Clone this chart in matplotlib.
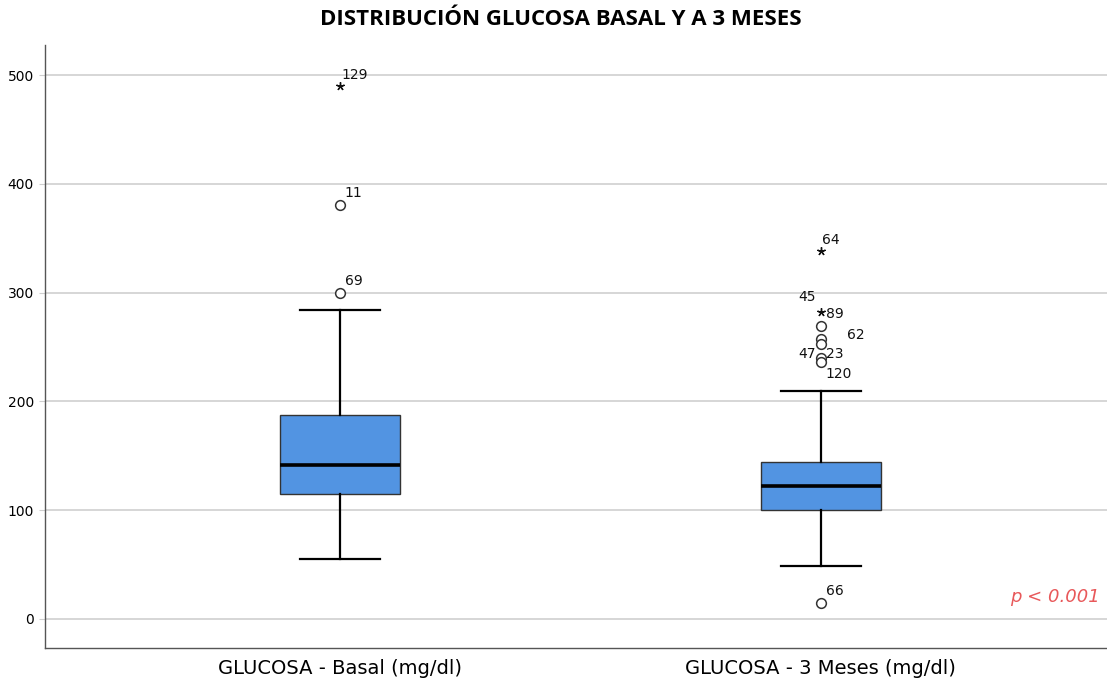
import numpy as np
import matplotlib.pyplot as plt

# -------------------- Data --------------------
groups = ["GLUCOSA - Basal (mg/dl)", "GLUCOSA - 3 Meses (mg/dl)"]
q1      = [115, 100]
median  = [142, 122]
q3      = [188, 144]
wlo     = [55, 49]
whi     = [284, 210]

# outliers (circles) and extremes (stars), with case labels
out_vals   = [[300, 381], [269, 257, 253, 240, 236, 15]]
out_labels = [["69", "11"], ["", "62", "", "47 23", "120", "66"]]
ext_vals   = [[490], [338, 282]]
ext_labels = [["129"], ["64", "45 89"]]

P_TEXT = "p < 0.001"

BOX_COL = "#5294E2"
EDGE    = "#333333"
GRID    = "#CFCFCF"

fig = plt.figure(figsize=(11.07, 6.85), dpi=100)
ax = fig.add_axes([0.0407, 0.054, 0.9593, 0.880])

stats = []
for i, g in enumerate(groups):
    stats.append(dict(label=g, q1=q1[i], med=median[i], q3=q3[i],
                      whislo=wlo[i], whishi=whi[i], fliers=[]))

pos = [1, 2]
ax.bxp(stats, positions=pos, widths=0.25, patch_artist=True, showfliers=False,
       boxprops=dict(facecolor=BOX_COL, edgecolor=EDGE, linewidth=1.0),
       medianprops=dict(color="black", linewidth=2.6),
       whiskerprops=dict(color="black", linewidth=1.6),
       capprops=dict(color="black", linewidth=1.6),
       capwidths=0.166, zorder=3)

lab_kw = dict(fontsize=10, color="#111111", zorder=5)
for i, p in enumerate(pos):
    for v, lab in zip(out_vals[i], out_labels[i]):
        ax.plot(p, v, marker="o", ms=7, mfc="white", mec="#333333", mew=1.1, zorder=4)
        if lab == "62":
            ax.text(p + 0.055, v - 2, lab, ha="left", va="bottom", **lab_kw)
        elif lab == "47 23":
            ax.text(p - 0.01, v - 3, "47", ha="right", va="bottom", **lab_kw)
            ax.text(p + 0.01, v - 3, "23", ha="left", va="bottom", **lab_kw)
        elif lab == "120":
            ax.text(p + 0.01, v - 4, lab, ha="left", va="top", **lab_kw)
        elif lab:
            ax.text(p + 0.01, v + 4, lab, ha="left", va="bottom", **lab_kw)
    for v, lab in zip(ext_vals[i], ext_labels[i]):
        ax.plot(p, v, marker=(5, 2, 0), ms=6, mec="#111111", mew=1.0, zorder=4)
        if lab == "45 89":
            ax.text(p - 0.01, v + 8, "45", ha="right", va="bottom", **lab_kw)
            ax.text(p + 0.01, v - 2, "89", ha="left", va="center", **lab_kw)
        else:
            ax.text(p + 0.003, v + 4, lab, ha="left", va="bottom", **lab_kw)

ax.set_xlim(0.387, 2.595)
ax.set_ylim(-26.7, 527.6)
ax.set_yticks([0, 100, 200, 300, 400, 500])
ax.set_xticks(pos)
ax.set_xticklabels(groups, fontsize=14)
ax.tick_params(axis="x", length=0, pad=8)
ax.tick_params(axis="y", length=4, color=GRID, labelsize=10, pad=4)
ax.yaxis.grid(True, color=GRID, linewidth=1.2, zorder=0)
ax.set_axisbelow(True)
for s in ["top", "right"]:
    ax.spines[s].set_visible(False)
for s in ["left", "bottom"]:
    ax.spines[s].set_color("#555555")
    ax.spines[s].set_linewidth(1.0)

ax.text(0.993, 0.085, P_TEXT, transform=ax.transAxes, ha="right", va="center",
        fontsize=13, style="italic", color="#E8585A")

fig.suptitle("DISTRIBUCIÓN GLUCOSA BASAL Y A 3 MESES", x=0.507, y=0.987,
             fontsize=16, fontweight="bold", family="Open Sans")

plt.savefig("out.png", dpi=100)
